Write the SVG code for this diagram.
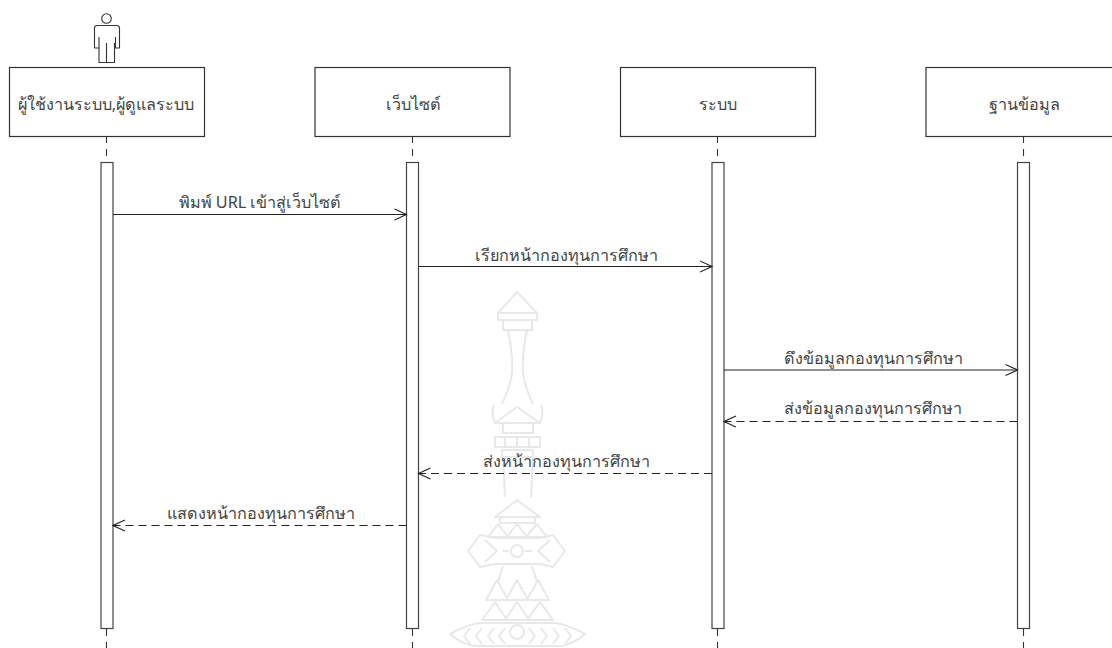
<svg xmlns="http://www.w3.org/2000/svg" width="1112" height="648" viewBox="0 0 1112 648">
<defs>
<marker id="open" markerUnits="userSpaceOnUse" markerWidth="14" markerHeight="14" refX="12.500" refY="7" orient="auto-start-reverse"><path d="M0.500 1.500L12.500 7L0.500 12.500" fill="none" stroke="#222" stroke-width="1.1"/></marker>
</defs>
<style>
.box{fill:#fff;stroke:#333;stroke-width:1.2}
.bar{fill:#fff;stroke:#444;stroke-width:1.2}
.life{stroke:#333;stroke-width:1.1;stroke-dasharray:7 6;fill:none}
.msg{stroke:#222;stroke-width:1.1;fill:none;marker-end:url(#open)}
.ret{stroke-dasharray:8 5}
.wm{fill:none;stroke:#e8e8e8;stroke-width:2;stroke-linejoin:round}
text{font-family:"Noto Sans","Liberation Sans",sans-serif;font-size:16.2px;fill:#444;text-anchor:middle}
</style>
<rect width="1112" height="648" fill="#fff"/>
<g id="watermark" class="wm">
<path d="M517 292L498 313H537Z"/><path d="M498 313H537V320H498ZM503 320H532V330H503Z"/>
<path d="M508 330C511 345 513 360 512 373C511 385 506 395 502 404M527 330C524 345 522 360 523 373C524 385 529 395 533 404"/>
<path d="M517 407L495 423C492 416 492 410 494 405M517 407L540 423C543 416 543 410 541 405M495 423H540"/>
<path d="M503 423H533V433H503ZM495 437H540V447H495ZM502 450H533V457H502ZM505 437V447M517 437V447M529 437V447"/>
<path d="M503 457L505 497M533 457L531 497"/>
<path d="M517 500L495 517H540ZM500 517H535V523H500Z"/>
<path d="M488 537L498 524L508 537ZM507 537L517 524L527 537ZM526 537L537 524L547 537Z"/>
<path d="M468 551L480 535L495 538H540L553 535L565 551L553 567L540 564H495L480 567Z"/>
<circle cx="517" cy="551" r="6"/>
<path d="M485 540L497 551L485 562M550 540L538 551L550 562M503 551H509M525 551H532"/>
<path d="M503 566L498 582M532 566L537 582"/>
<path d="M486 600L497 580L508 600ZM506 600L517 580L528 600ZM527 600L538 580L549 600Z"/>
<path d="M482 620L495 602L507 620ZM505 620L517 602L529 620ZM527 620L540 602L553 620Z"/>
<path d="M480 623H555C565 624 574 628 585 634C578 640 570 645 560 646H475C465 645 457 640 450 634C461 628 470 624 480 623Z"/>
<circle cx="517" cy="632" r="7"/>
<path d="M470 628L464 636L470 644M482 628L476 636L482 644M494 628L488 636L494 644M505 628L499 636L505 644M529 628L535 636L529 644M541 628L547 636L541 644M553 628L559 636L553 644M565 628L571 636L565 644"/>
</g>
<g id="connectors">
<path class="life" d="M106.500 136V162M106.500 629V648"/>
<path class="life" d="M412.500 136V162M412.500 629V648"/>
<path class="life" d="M717.500 136V162M717.500 629V648"/>
<path class="life" d="M1023.500 136V162M1023.500 629V648"/>
</g>
<g id="actor" fill="#fff" stroke="#333" stroke-width="1.1">
<circle cx="106.500" cy="18.500" r="4.800"/>
<path d="M94.500 48V28Q94.500 25.500 97.500 25.500H116.500Q119.500 25.500 119.500 28V48H115.500V37M94.500 48H99V37M99 43V62.500H114.500V43M106.500 43V62.500"/>
</g>
<g id="node-user"><rect class="box" x="9.500" y="67.500" width="195" height="69"/><text x="106" y="110">ผู้ใช้งานระบบ,ผู้ดูแลระบบ</text></g>
<g id="node-web"><rect class="box" x="315" y="67.500" width="195" height="69"/><text x="413" y="110">เว็บไซต์</text></g>
<g id="node-system"><rect class="box" x="620.500" y="67.500" width="195" height="69"/><text x="718" y="110">ระบบ</text></g>
<g id="node-db"><rect class="box" x="926" y="67.500" width="195" height="69"/><text x="1024" y="110">ฐานข้อมูล</text></g>
<g id="bar-user"><rect class="bar" x="101" y="162.500" width="12" height="466"/></g>
<g id="bar-web"><rect class="bar" x="406.500" y="162.500" width="12" height="466"/></g>
<g id="bar-system"><rect class="bar" x="712" y="162.500" width="12" height="466"/></g>
<g id="bar-db"><rect class="bar" x="1017.500" y="162.500" width="12" height="466"/></g>
<g id="messages">
<path class="msg" d="M113 214.500H406.500"/><text x="260" y="208">พิมพ์ URL เข้าสู่เว็บไซต์</text>
<path class="msg" d="M418.500 266.500H712"/><text x="566" y="261">เรียกหน้ากองทุนการศึกษา</text>
<path class="msg" d="M724 370H1017.500"/><text x="873" y="364">ดึงข้อมูลกองทุนการศึกษา</text>
<path class="msg ret" d="M1017.500 421.500H724"/><text x="873" y="414">ส่งข้อมูลกองทุนการศึกษา</text>
<path class="msg ret" d="M712 473.500H418.500"/><text x="566" y="467">ส่งหน้ากองทุนการศึกษา</text>
<path class="msg ret" d="M406.500 525.500H113"/><text x="261" y="519">แสดงหน้ากองทุนการศึกษา</text>
</g>
</svg>
